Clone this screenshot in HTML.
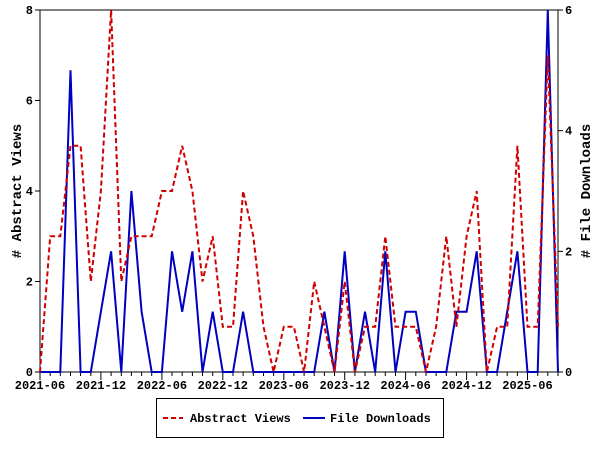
<!DOCTYPE html>
<html><head><meta charset="utf-8"><style>
html,body{margin:0;padding:0;background:#fff;width:600px;height:450px;overflow:hidden}
text{font-family:"Liberation Mono","DejaVu Sans Mono",monospace;font-weight:bold;fill:#000}
</style></head><body>
<svg id="s" width="600" height="450" xmlns="http://www.w3.org/2000/svg">
<rect x="40" y="10" width="518" height="362" fill="#fff" stroke="#000" stroke-width="1"/>
<g id="ticks" stroke="#000" stroke-width="1"></g>
<g id="labels" font-size="12"></g>
<polyline id="dl" fill="none" stroke="#0000c0" stroke-width="2"/>
<polyline id="av" fill="none" stroke="#d00000" stroke-width="2" stroke-dasharray="5,3"/>
<text x="0" y="0" font-size="14" transform="translate(21,191) rotate(-90)" text-anchor="middle">#  Abstract Views</text>
<text x="0" y="0" font-size="14" transform="translate(590,191) rotate(-90)" text-anchor="middle">#  File Downloads</text>
<rect x="156.5" y="398.5" width="287" height="39" fill="#fff" stroke="#000"/>
<line x1="163" y1="418" x2="183" y2="418" stroke="#d00000" stroke-width="2" stroke-dasharray="5,3"/>
<text x="190" y="422" font-size="12">Abstract Views</text>
<line x1="303" y1="418" x2="325" y2="418" stroke="#0000c0" stroke-width="2"/>
<text x="330" y="422" font-size="12">File Downloads</text>
</svg>
<script>
var v=[0,3,3,5,5,2,4,8,2,3,3,3,4,4,5,4,2,3,1,1,4,3,1,0,1,1,0,2,1,0,2,0,1,1,3,1,1,1,0,1,3,1,3,4,0,1,1,5,1,1,7,1];
var d=[0,0,0,5,0,0,1,2,0,3,1,0,0,2,1,2,0,1,0,0,1,0,0,0,0,0,0,0,1,0,2,0,1,0,2,0,1,1,0,0,0,1,1,2,0,0,1,2,0,0,6,0];
var dx=518/51;
function X(i){return 40+dx*i}
document.getElementById('av').setAttribute('points',v.map(function(a,i){return X(i).toFixed(1)+','+(372-45.25*a).toFixed(1)}).join(' '));
document.getElementById('dl').setAttribute('points',d.map(function(a,i){return X(i).toFixed(1)+','+(372-60.333*a).toFixed(1)}).join(' '));
var t='',l='';
for(var i=0;i<=51;i++){var x=X(i).toFixed(1);t+='<line x1="'+x+'" y1="372" x2="'+x+'" y2="'+(i%6==0?380:376)+'"/>';}
var labs=['2021-06','2021-12','2022-06','2022-12','2023-06','2023-12','2024-06','2024-12','2025-06'];
for(var k=0;k<9;k++){l+='<text x="'+X(k*6).toFixed(1)+'" y="389" text-anchor="middle">'+labs[k]+'</text>';}
for(var k=0;k<=4;k++){var y=372-k*90.5;t+='<line x1="35" y1="'+y+'" x2="40" y2="'+y+'"/>';l+='<text x="33" y="'+(y+4)+'" text-anchor="end">'+(k*2)+'</text>';}
for(var k=0;k<=3;k++){var y=372-k*120.67;t+='<line x1="558" y1="'+y+'" x2="563" y2="'+y+'"/>';l+='<text x="565" y="'+(y+4)+'">'+(k*2)+'</text>';}
document.getElementById('ticks').innerHTML=t;
document.getElementById('labels').innerHTML=l;
</script>
</body></html>
